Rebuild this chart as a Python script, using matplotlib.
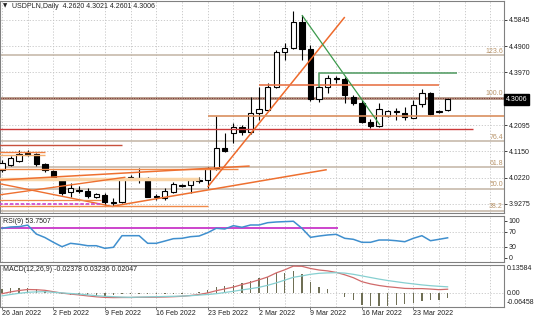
import numpy as np
import matplotlib
matplotlib.use('Agg')
import matplotlib.pyplot as plt
import matplotlib.transforms as mtrans
from matplotlib import font_manager

# MT4 uses a narrow sans face; take a narrow one if it is there
names = {f.name for f in font_manager.fontManager.ttflist}
if 'Liberation Sans Narrow' in names:
    plt.rcParams['font.family'] = ['Liberation Sans Narrow', 'DejaVu Sans']
    FS = 6.2
elif 'DejaVu Sans Condensed' in names:
    plt.rcParams['font.family'] = ['DejaVu Sans Condensed', 'DejaVu Sans']
    FS = 5.3
else:
    plt.rcParams['font.family'] = ['Liberation Sans', 'DejaVu Sans']
    FS = 5.0
plt.rcParams['font.size'] = FS

# ---- data, one bar per trading day incl. sunday bars
opens = [4.049, 4.066, 4.081, 4.109, 4.105, 4.069, 4.045, 4.013, 3.969, 3.975,
         3.974, 3.953, 3.960, 3.930, 3.936, 4.025, 4.022, 4.019, 3.956, 3.948,
         3.971, 3.993, 3.995, 4.012, 4.013, 4.055, 4.126, 4.180, 4.201, 4.184,
         4.251, 4.263, 4.344, 4.471, 4.483, 4.578, 4.480, 4.301, 4.344, 4.378,
         4.373, 4.311, 4.289, 4.221, 4.206, 4.242, 4.258, 4.251, 4.233, 4.283,
         4.324, 4.255, 4.2620]
highs = [4.085, 4.099, 4.120, 4.120, 4.110, 4.074, 4.049, 4.020, 4.002, 3.992,
         3.985, 3.967, 3.967, 3.949, 4.024, 4.031, 4.055, 4.024, 3.963, 3.985,
         4.007, 3.999, 4.017, 4.024, 4.060, 4.242, 4.180, 4.217, 4.210, 4.308,
         4.344, 4.358, 4.477, 4.501, 4.617, 4.602, 4.495, 4.352, 4.388, 4.383,
         4.382, 4.317, 4.299, 4.230, 4.287, 4.263, 4.269, 4.275, 4.299, 4.337,
         4.329, 4.263, 4.3021]
lows = [4.042, 4.063, 4.077, 4.099, 4.063, 4.042, 4.013, 3.960, 3.952, 3.967,
        3.949, 3.949, 3.924, 3.920, 3.931, 4.017, 4.002, 3.951, 3.942, 3.942,
        3.966, 3.987, 3.966, 4.002, 3.984, 4.049, 4.114, 4.144, 4.174, 4.177,
        4.227, 4.260, 4.341, 4.442, 4.481, 4.442, 4.297, 4.293, 4.323, 4.360,
        4.287, 4.281, 4.216, 4.198, 4.204, 4.238, 4.227, 4.227, 4.233, 4.275,
        4.245, 4.252, 4.2601]
closes = [4.073, 4.091, 4.105, 4.102, 4.069, 4.049, 4.021, 3.966, 3.986, 3.977,
          3.956, 3.962, 3.936, 3.936, 4.019, 4.022, 4.018, 3.953, 3.951, 3.975,
          3.998, 3.994, 4.013, 4.008, 4.055, 4.129, 4.118, 4.204, 4.183, 4.251,
          4.266, 4.344, 4.471, 4.483, 4.578, 4.480, 4.301, 4.344, 4.378, 4.375,
          4.317, 4.289, 4.221, 4.206, 4.266, 4.260, 4.256, 4.237, 4.281, 4.323,
          4.249, 4.258, 4.3006]

rsi = [79.5, 83, 84, 88, 64, 54.6, 41.6, 29.7, 38.9, 36.2,
       32.4, 32.4, 25.4, 28.1, 59.5, 59.5, 59.5, 38.9, 38.9, 45,
       51.4, 52.4, 56.8, 58.6, 67.6, 79.5, 77.6, 86.5, 82.2, 88.4,
       88.4, 94.6, 96.5, 97.5, 98.5, 79.5, 55, 58.6, 61.4, 63.2,
       52.4, 49.7, 41.6, 41.6, 47.8, 47.8, 45.9, 43.2, 52.4, 59.5,
       45.9, 49.7, 53.7507]

macd = [-0.002, 0.007, 0.014, 0.019, 0.018, 0.015, 0.008, 0.001, -0.004, -0.008,
        -0.013, -0.0175, -0.0205, -0.0215, -0.021, -0.021, -0.020, -0.020, -0.0195, -0.0185,
        -0.017, -0.015, -0.011, -0.006, 0.002, 0.013, 0.022, 0.031, 0.0435, 0.0545,
        0.0675, 0.0815, 0.102, 0.1175, 0.1358, 0.135, 0.124, 0.1165, 0.112, 0.1045,
        0.0925, 0.078, 0.058, 0.047, 0.039, 0.033, 0.029, 0.0245, 0.0235, 0.0235,
        0.0212, 0.0182, 0.02047]
signal = [-0.013, -0.006, 0.000, 0.005, 0.007, 0.008, 0.005, 0.002, -0.001, -0.004,
          -0.008, -0.012, -0.015, -0.017, -0.019, -0.020, -0.019, -0.018, -0.017, -0.016,
          -0.015, -0.014, -0.012, -0.009, -0.006, -0.002, 0.004, 0.010, 0.017, 0.023,
          0.030, 0.040, 0.052, 0.066, 0.080, 0.087, 0.095, 0.100, 0.102, 0.103,
          0.101, 0.095, 0.087, 0.079, 0.071, 0.064, 0.058, 0.052, 0.047, 0.042,
          0.038, 0.035, 0.03236]
hist = [0.022, 0.026, 0.028, 0.028, 0.022, 0.014, 0.006, -0.002, -0.006, -0.008,
        -0.010, -0.011, -0.011, -0.009, -0.004, -0.002, -0.002, -0.004, -0.005, -0.005,
        -0.004, -0.002, 0.002, 0.006, 0.0165, 0.030, 0.0365, 0.0415, 0.053, 0.063,
        0.075, 0.083, 0.100, 0.103, 0.1115, 0.0965, 0.058, 0.033, 0.020, 0.003,
        -0.017, -0.0335, -0.0585, -0.0646, -0.0635, -0.062, -0.0585, -0.055, -0.047, -0.037,
        -0.0335, -0.0335, -0.02378]

date_pos = [0, 6, 12, 18, 24, 30, 36, 42, 48]
date_labels = ['26 Jan 2022', '2 Feb 2022', '9 Feb 2022', '16 Feb 2022', '23 Feb 2022',
               '2 Mar 2022', '9 Mar 2022', '16 Mar 2022', '23 Mar 2022']

price_ticks = [4.5845, 4.4900, 4.3970, 4.2095, 4.1150, 4.0220, 3.9275]
price_grid = [4.5845, 4.4900, 4.3970, 4.3035, 4.2095, 4.1150, 4.0220, 3.9275]

fib_levels = ['38.2', '50.0', '61.8', '76.4', '100.0', '123.6']
fib_prices = [3.904, 3.981, 4.058, 4.152, 4.306, 4.459]

# drawn objects: (bar positions, prices, colour, width)
trend_lines = [
    ([-0.3, 23], [4.017, 4.017], '#f9d5a8', 2.5),
    ([-0.3, 5], [4.114, 4.114], '#f08040', 1.0),
    ([-0.3, 5], [4.104, 4.104], '#f5b070', 1.0),
    ([-0.3, 14], [4.138, 4.138], '#c8503c', 1.0),
    ([-0.3, 55], [4.194, 4.194], '#cc3838', 1.0),
    ([-0.3, 27.5], [4.052, 4.052], '#f08a4a', 1.0),
    ([-0.3, 28.9], [4.013, 4.063], '#ee7030', 1.1),
    ([-0.3, 13], [4.000, 3.918], '#ee7030', 1.0),
    ([-0.3, 14.4], [3.960, 4.023], '#ee7030', 1.0),
    ([13, 37.9], [3.920, 4.050], '#ee7030', 1.1),
    ([-0.3, 11.5], [3.9417, 3.9417], '#f08a4a', 0.9),
    ([-0.3, 24], [3.922, 3.922], '#f08a4a', 1.0),
    ([24, 40], [3.988, 4.595], '#ee6a2c', 1.1),
    ([30, 51], [4.354, 4.354], '#e8764a', 1.2),
    ([24, 59], [4.2417, 4.2417], '#d98f5f', 1.2),
    ([35, 44.1], [4.602, 4.2095], '#3c9a4c', 0.9),
    ([37, 37, 53.1], [4.346, 4.396, 4.396], '#5aa06a', 1.2),
]
magenta_low = ([-0.3, 11.6], [3.929, 3.929])
rsi_line_level = ([-0.3, 39.1], [79.5, 79.5])

# ---- layout in pixels of the 536x321 picture
W, H = 536, 321
def box(x0, y0, x1, y1):
    return [x0 / W, 1 - y1 / H, (x1 - x0) / W, (y1 - y0) / H]

fig = plt.figure(figsize=(5.36, 3.21), dpi=100)
ax = fig.add_axes(box(0, 1, 504, 213))
ax_rsi = fig.add_axes(box(0, 216, 504, 262))
ax_macd = fig.add_axes(box(0, 265, 504, 306.5))

xlim = (-0.233, 58.58)
gridx = np.arange(0, 58, 3)
gcol = '#c4c4c4'
dots = (0, (1.5, 2))
for a in (ax, ax_rsi, ax_macd):
    a.set_xlim(*xlim)
    a.set_xticks([])
    for s in a.spines.values():
        s.set_color('#808080')
        s.set_linewidth(0.8)
    for g in gridx:
        a.axvline(g, color=gcol, lw=0.6, ls=dots, zorder=0)
    a.yaxis.tick_right()
    a.tick_params(axis='y', length=2, pad=1.5, labelsize=FS, colors='#202020', width=0.6)

# ---- main panel
ax.set_ylim(3.8953, 4.6523)
for p in price_grid:
    ax.axhline(p, color=gcol, lw=0.6, ls=dots, zorder=0)
ax.set_yticks(price_ticks)
ax.set_yticklabels(['%.4f' % p for p in price_ticks])

for lev, p in zip(fib_levels, fib_prices):
    if lev == '100.0':
        ax.plot(xlim, [p, p], color='#b39482', lw=2.0, zorder=1)
        ax.plot(xlim, [p, p], color='#7a3030', lw=0.7, ls=(0, (1, 1.5)), zorder=1)
    else:
        ax.plot(xlim, [p, p], color='#c2b4a4', lw=1.1, zorder=1)
    ax.text(58.45, p + 0.002, lev, ha='right', va='bottom', color='#b8946a')

x = np.arange(len(opens))
o = np.array(opens); c = np.array(closes)
ax.vlines(x, lows, highs, color='black', lw=0.8, zorder=3)
bull = c >= o
ax.bar(x[bull], (c - o)[bull], bottom=o[bull], width=0.62, color='white',
       edgecolor='black', linewidth=0.8, zorder=4)
ax.bar(x[~bull], (o - c)[~bull], bottom=c[~bull], width=0.62, color='black',
       edgecolor='black', linewidth=0.8, zorder=4)

for xs, ys, col, lw in trend_lines:
    ax.plot(xs, ys, color=col, lw=lw, zorder=5, solid_capstyle='butt')
ax.plot(*magenta_low, color='#d050d0', lw=1.3, ls=(0, (2, 1)), zorder=5)

ax.text(3 / 504, 1 - 5 / 212, '\u25bc', transform=ax.transAxes, fontsize=4,
        family='DejaVu Sans', va='center', ha='left', color='#202020')
ax.text(12 / 504, 1 - 5 / 212, 'USDPLN,Daily  4.2620 4.3021 4.2601 4.3006',
        transform=ax.transAxes, va='center', ha='left', color='#202020')

trans = mtrans.blended_transform_factory(ax.transAxes, ax.transData)
ax.text(1.004, closes[-1], '%.4f' % closes[-1], transform=trans, color='white',
        va='center', ha='left', clip_on=False,
        bbox=dict(facecolor='black', edgecolor='black', pad=1.2))

# ---- RSI panel
ax_rsi.set_ylim(-11.6, 112.7)
for lv in (70, 30):
    ax_rsi.axhline(lv, color=gcol, lw=0.6, ls=dots, zorder=0)
ax_rsi.set_yticks([100, 70, 30, 0])
ax_rsi.plot(*rsi_line_level, color='#cc44cc', lw=1.4, zorder=2)
ax_rsi.plot(x, rsi, color='#3f8fce', lw=1.1, zorder=3)
ax_rsi.text(3 / 504, 0.876, 'RSI(9) %.4f' % rsi[-1], transform=ax_rsi.transAxes,
            va='center', ha='left', color='#202020')

# ---- MACD panel
ax_macd.set_ylim(-0.066, 0.1415)
ax_macd.axhline(0, color=gcol, lw=0.6, ls=dots, zorder=0)
ax_macd.set_yticks([])
ax_macd.bar(x, hist, width=0.16, color='#6f6f55', zorder=2)
ax_macd.plot(x, macd, color='#d06a6a', lw=0.9, zorder=3)
ax_macd.plot(x, signal, color='#86cfd0', lw=0.9, zorder=3)
ax_macd.text(3 / 504, 0.896, 'MACD(12,26,9) %.5f %.5f %.5f' % (hist[-1], signal[-1], macd[-1]),
             transform=ax_macd.transAxes, va='center', ha='left', color='#202020')
mtr = mtrans.blended_transform_factory(ax_macd.transAxes, ax_macd.transAxes)
ax_macd.text(1.006, 0.99, '0.13584', transform=mtr, va='top', ha='left', color='#202020')
ax_macd.text(1.006, 0.0, '-0.06458', transform=mtr, va='bottom', ha='left', color='#202020')
mt0 = mtrans.blended_transform_factory(ax_macd.transAxes, ax_macd.transData)
ax_macd.text(1.006, 0.0, '0.00', transform=mt0, va='center', ha='left', color='#202020')

# date labels under the last panel
dtr = mtrans.blended_transform_factory(ax_macd.transData, ax_macd.transAxes)
for pos, lab in zip(date_pos, date_labels):
    ax_macd.text(pos, -0.18, lab, transform=dtr, va='center', ha='left', color='#202020')
    ax_macd.plot([pos, pos], [-0.06, 0], transform=dtr, color='#606060', lw=0.6, clip_on=False)

fig.savefig('out.png', dpi=100)
